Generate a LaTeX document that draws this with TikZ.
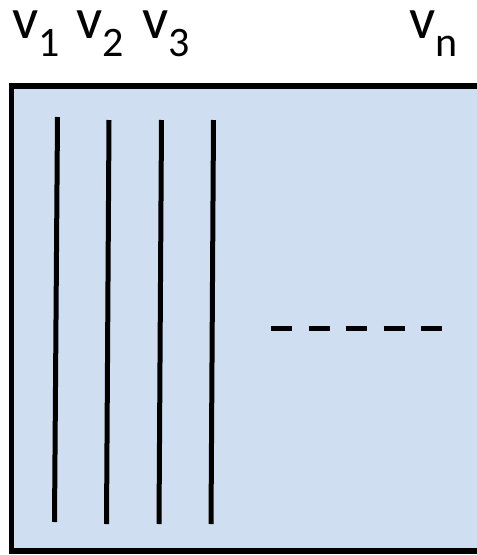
\documentclass[tikz,border=0pt]{standalone}
\usepackage{fontspec}
\setmainfont{Carlito}
\definecolor{boxfill}{RGB}{207,223,241}
\newcommand\vsublab[1]{v\raisebox{-18pt}{\fontsize{42}{44}\selectfont #1}}
\begin{document}
\begin{tikzpicture}[x=1pt,y=-1pt,
  vlab/.style={anchor=base west,inner sep=0pt,text height=28pt,text depth=20pt,font=\fontsize{58}{60}\selectfont},
  colline/.style={line width=5pt},
  dashline/.style={line width=5pt,dash pattern=on 21pt off 16.5pt}]
\useasboundingbox (0,0) rectangle (477,555);
\clip (0,0) rectangle (477,555);
\draw[line width=5.5pt,fill=boxfill] (11.5,86) rectangle (480,551);
\node[vlab] (v1) at (12,38) {\vsublab{1}};
\node[vlab] (v2) at (76,38) {\vsublab{2}};
\node[vlab] (v3) at (142,38) {\vsublab{3}};
\node[vlab] (vn) at (409,38) {\vsublab{n}};
\coordinate (a1) at (57.5,117); \coordinate (b1) at (54.5,522);
\coordinate (a2) at (109,120); \coordinate (b2) at (106.5,524);
\coordinate (a3) at (161.5,120); \coordinate (b3) at (159,524);
\coordinate (a4) at (213.5,120); \coordinate (b4) at (211,524);
\draw[colline] (a1) -- (b1);
\draw[colline] (a2) -- (b2);
\draw[colline] (a3) -- (b3);
\draw[colline] (a4) -- (b4);
\coordinate (d1) at (271,328); \coordinate (d2) at (443,328);
\draw[dashline] (d1) -- (d2);
\end{tikzpicture}
\end{document}
